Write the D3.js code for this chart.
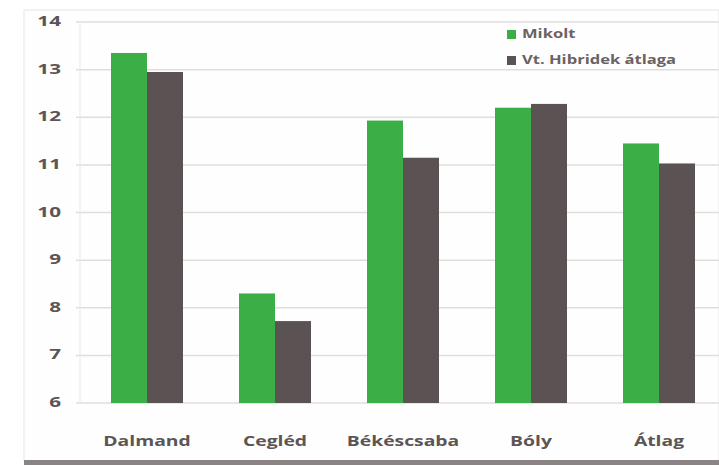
<!DOCTYPE html>
<html>
<head>
<meta charset="utf-8">
<script src="https://cdn.jsdelivr.net/npm/d3@7"></script>
<style>
  body { margin: 0; background: #fff; }
  text { font-family: "Open Sans", "DejaVu Sans", sans-serif; }
</style>
</head>
<body>
<div id="canvas"></div>
<script>
"use strict"

/* data */
let categories = ["Dalmand", "Cegléd", "Békéscsaba", "Bóly", "Átlag"];
let seriesNames = ["Mikolt", "Vt. Hibridek átlaga"];
let mikolt = [13.35, 8.3, 11.93, 12.2, 11.45];
let hibridAtlag = [12.95, 7.72, 11.15, 12.28, 11.03];
let yTicks = [6, 7, 8, 9, 10, 11, 12, 13, 14];

let seriesColors = ["#3bae45", "#5a5253"];

/* drawing size */
let svgWidth = 719;
let svgHeight = 465;
let stretch = 1.38; // text in the picture is wide, stretch it sideways

let svg = d3.select("#canvas")
    .append("svg")
    .attr("width", svgWidth)
    .attr("height", svgHeight);

// frame round the chart (faint left/top edge, darker bottom)
svg.append("rect")
    .attr("x", 24)
    .attr("y", 10)
    .attr("width", svgWidth - 24)
    .attr("height", svgHeight - 14)
    .attr("fill", "#fefefe")
    .attr("stroke", "#e6e6e6");

svg.append("rect")
    .attr("x", 24)
    .attr("y", 460)
    .attr("width", svgWidth - 24)
    .attr("height", 5)
    .attr("fill", "#8a8584");

let xScale = d3.scaleBand()
    .domain(categories)
    .range([83, 723])
    .paddingInner(0.4375)
    .paddingOuter(0.21875);

let subScale = d3.scaleBand()
    .domain(seriesNames)
    .range([0, xScale.bandwidth()]);

let yScale = d3.scaleLinear()
    .domain([6, 14])
    .range([403, 22]);

// grid lines
svg.selectAll(".grid")
    .data(yTicks)
    .join("line")
    .attr("class", "grid")
    .attr("x1", 76)
    .attr("x2", svgWidth)
    .attr("y1", d => yScale(d))
    .attr("y2", d => yScale(d))
    .attr("stroke", "#e2dddd")
    .attr("stroke-width", 1.5);

// left axis line
svg.append("line")
    .attr("x1", 80)
    .attr("x2", 80)
    .attr("y1", yScale(14))
    .attr("y2", yScale(6))
    .attr("stroke", "#e8e8e8");

// y tick labels
svg.selectAll(".yTick")
    .data(yTicks)
    .join("text")
    .attr("class", "yTick")
    .attr("transform", d => "translate(61," + yScale(d) + ") scale(" + stretch + ",1)")
    .attr("text-anchor", "end")
    .attr("dominant-baseline", "middle")
    .style("font-size", "15px")
    .style("font-weight", "bold")
    .attr("fill", "#5c5556")
    .text(d => d);

// bars
let rows = categories.map(function(c, i) {
    return { cat: c, values: [mikolt[i], hibridAtlag[i]] };
});

let groups = svg.selectAll(".group")
    .data(rows)
    .join("g")
    .attr("class", "group")
    .attr("transform", d => "translate(" + xScale(d.cat) + ",0)");

groups.selectAll("rect")
    .data(d => d.values.map((v, j) => ({ name: seriesNames[j], value: v, j: j })))
    .join("rect")
    .attr("x", d => subScale(d.name))
    .attr("width", subScale.bandwidth())
    .attr("y", d => yScale(d.value))
    .attr("height", d => yScale(6) - yScale(d.value))
    .attr("fill", d => seriesColors[d.j]);

// category labels
svg.selectAll(".xLabel")
    .data(categories)
    .join("text")
    .attr("class", "xLabel")
    .attr("transform", d => "translate(" + (xScale(d) + xScale.bandwidth() / 2) + ",446) scale(" + stretch + ",1)")
    .attr("text-anchor", "middle")
    .style("font-size", "14px")
    .style("font-weight", "bold")
    .attr("fill", "#5c5556")
    .text(d => d);

// legend
let legendX = 507;
let legendY = [35, 61];

svg.selectAll(".legendKey")
    .data(seriesNames)
    .join("rect")
    .attr("class", "legendKey")
    .attr("x", legendX)
    .attr("y", (d, i) => legendY[i] - 5)
    .attr("width", 9)
    .attr("height", 9)
    .attr("fill", (d, i) => seriesColors[i]);

svg.selectAll(".legendText")
    .data(seriesNames)
    .join("text")
    .attr("class", "legendText")
    .attr("transform", (d, i) => "translate(" + (legendX + 15) + "," + legendY[i] + ") scale(" + stretch + ",1)")
    .attr("dominant-baseline", "middle")
    .style("font-size", "12px")
    .style("font-weight", "bold")
    .attr("fill", "#6a6263")
    .text(d => d);
</script>
</body>
</html>
